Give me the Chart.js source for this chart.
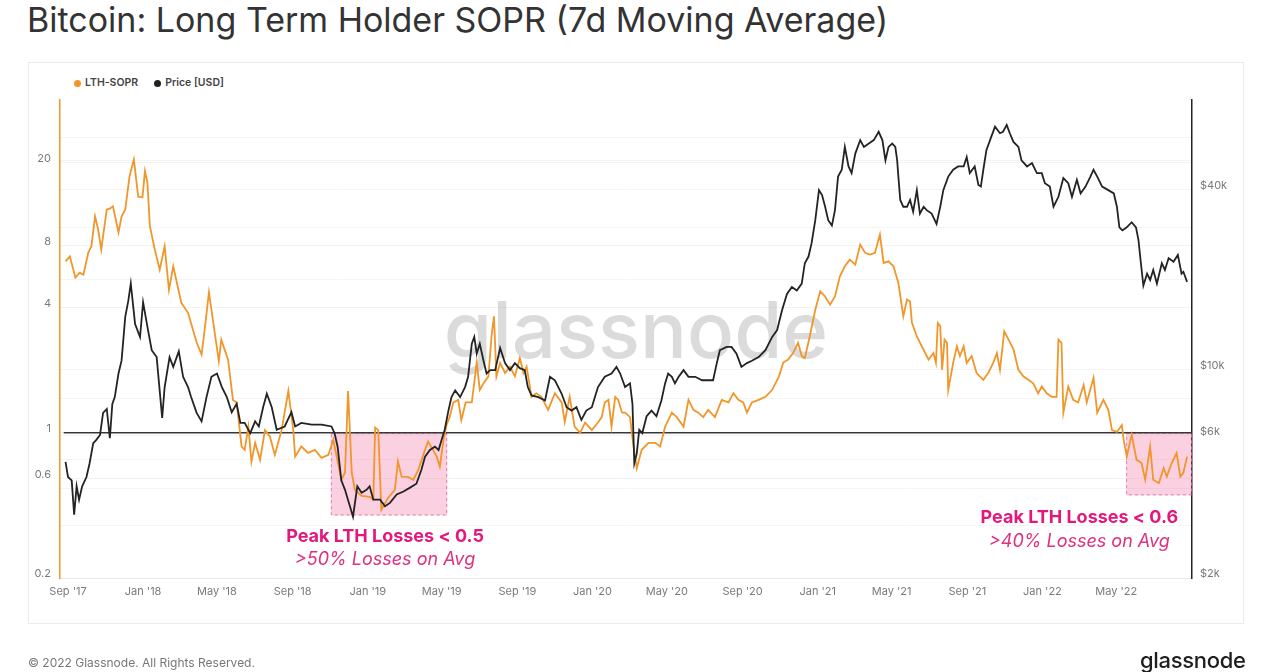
<!DOCTYPE html>
<html>
<head>
<meta charset="utf-8">
<script src="https://cdn.jsdelivr.net/npm/chart.js@4.4.1/dist/chart.umd.min.js"></script>
<style>
html,body{margin:0;padding:0;background:#fff;}
body{width:1271px;height:672px;position:relative;overflow:hidden;font-family:Inter,"Noto Sans",sans-serif;}
#title{position:absolute;left:27px;top:-1px;font-size:34px;line-height:42px;color:#333;white-space:nowrap;}
#panel{position:absolute;left:28px;top:62px;width:1216px;height:562px;border:1px solid #ebebeb;box-sizing:border-box;}
#legend{position:absolute;left:74px;top:76px;height:14px;font-size:10.5px;line-height:14px;font-weight:600;color:#444;display:flex;gap:16px;}
.li{display:flex;align-items:center;white-space:nowrap;}
.dot{display:inline-block;width:7px;height:7px;border-radius:50%;margin-right:4px;}
#footer{position:absolute;left:28px;top:655px;font-size:12px;line-height:16px;color:#777;white-space:nowrap;}
#logo{position:absolute;left:1140px;top:648px;font-size:22px;line-height:24px;font-weight:500;color:#1e1e1e;letter-spacing:-0.3px;}
canvas{position:absolute;left:0;top:0;}
</style>
</head>
<body>
<div id="title">Bitcoin: Long Term Holder SOPR (7d Moving Average)</div>
<div id="panel"></div>
<div id="legend"><span class="li"><span class="dot" style="background:#f0962a"></span>LTH-SOPR</span><span class="li"><span class="dot" style="background:#222"></span>Price [USD]</span></div>
<canvas id="c" width="1271" height="672"></canvas>
<div id="footer">© 2022 Glassnode. All Rights Reserved.</div>
<div id="logo">glassnode</div>
<script>
// ---------------- DATA ----------------
const soprDates = [
"2017-08-28","2017-09-04","2017-09-13","2017-09-20","2017-09-26","2017-10-04","2017-10-09","2017-10-15","2017-10-20","2017-10-25","2017-11-03","2017-11-08","2017-11-13","2017-11-22","2017-11-27","2017-12-03","2017-12-10","2017-12-17","2017-12-24","2017-12-31",
"2018-01-04","2018-01-08","2018-01-12","2018-01-20","2018-01-28","2018-02-05","2018-02-12","2018-02-19","2018-03-04","2018-03-15","2018-03-29","2018-04-06","2018-04-11","2018-04-18","2018-04-25","2018-05-04","2018-05-08","2018-05-19","2018-05-27","2018-06-02","2018-06-10","2018-06-15","2018-06-21","2018-06-26","2018-07-02","2018-07-10","2018-07-18","2018-07-26","2018-08-03","2018-08-14","2018-08-25","2018-09-02","2018-09-05","2018-09-15","2018-09-26","2018-10-07","2018-10-18","2018-10-29","2018-11-06","2018-11-19","2018-11-25","2018-11-30","2018-12-06","2018-12-11","2018-12-22",
"2019-01-04","2019-01-10","2019-01-13","2019-01-18","2019-01-23","2019-02-03","2019-02-14","2019-02-19","2019-02-25","2019-03-07","2019-03-16","2019-03-24","2019-04-04","2019-04-09","2019-04-17","2019-04-23","2019-04-28","2019-05-04","2019-05-09","2019-05-14","2019-05-20","2019-05-28","2019-06-02","2019-06-09","2019-06-19","2019-06-27","2019-07-02","2019-07-08","2019-07-16","2019-07-21","2019-07-25","2019-07-29","2019-08-04","2019-08-12","2019-08-20","2019-08-28","2019-09-05","2019-09-11","2019-09-16","2019-09-24","2019-10-02","2019-10-10","2019-10-21","2019-11-01","2019-11-12","2019-11-17","2019-11-25","2019-12-03","2019-12-12","2019-12-20","2019-12-31",
"2020-01-10","2020-01-16","2020-01-21","2020-01-27","2020-02-01","2020-02-07","2020-02-12","2020-02-18","2020-02-23","2020-03-02","2020-03-07","2020-03-13","2020-03-21","2020-04-01","2020-04-12","2020-04-20","2020-04-28","2020-05-09","2020-05-17","2020-05-28","2020-06-05","2020-06-13","2020-06-21","2020-06-29","2020-07-07","2020-07-18","2020-07-29","2020-08-09","2020-08-17","2020-08-25","2020-09-02","2020-09-08","2020-09-16","2020-09-27","2020-10-08","2020-10-19","2020-10-30","2020-11-06","2020-11-14","2020-11-22","2020-11-30","2020-12-06","2020-12-11","2020-12-19","2020-12-28",
"2021-01-05","2021-01-13","2021-01-21","2021-01-29","2021-02-06","2021-02-14","2021-02-22","2021-03-03","2021-03-11","2021-03-19","2021-03-27","2021-04-04","2021-04-12","2021-04-18","2021-04-26","2021-05-04","2021-05-12","2021-05-20","2021-05-26","2021-05-31","2021-06-03","2021-06-11","2021-06-19","2021-06-30","2021-07-08","2021-07-12","2021-07-15","2021-07-19","2021-07-22","2021-07-26","2021-07-30","2021-08-01","2021-08-09","2021-08-15","2021-08-20","2021-08-26","2021-08-31","2021-09-08","2021-09-16","2021-09-27","2021-10-05","2021-10-13","2021-10-19","2021-10-24","2021-10-31","2021-11-07","2021-11-15","2021-11-23","2021-12-01","2021-12-09","2021-12-17","2021-12-25","2021-12-31",
"2022-01-08","2022-01-16","2022-01-24","2022-01-27","2022-02-01","2022-02-04","2022-02-12","2022-02-20","2022-02-28","2022-03-09","2022-03-14","2022-03-25","2022-03-31","2022-04-10","2022-04-18","2022-04-24","2022-05-02","2022-05-10","2022-05-13","2022-05-18","2022-05-26","2022-06-03","2022-06-11","2022-06-17","2022-06-25","2022-06-30","2022-07-09","2022-07-17","2022-07-22","2022-07-30","2022-08-07","2022-08-13","2022-08-18","2022-08-24"
];
const soprValues = [
6.69,7.07,5.58,5.90,5.77,7.37,7.91,11.0,9.51,7.62,11.9,12.0,12.3,9.21,11.0,11.9,17.2,20.7,13.7,13.6,
18.2,16.0,9.87,7.62,6.10,7.91,4.88,6.33,4.23,3.78,2.72,2.38,3.14,4.75,3.39,2.21,2.81,2.25,1.44,1.40,0.859,0.828,1.07,0.727,0.895,0.741,1.03,0.960,0.783,1.03,1.59,1.03,0.768,0.859,0.801,0.828,0.758,0.783,0.925,0.594,0.642,1.59,0.642,0.532,0.497,
0.492,0.476,1.06,1.03,0.426,0.486,0.532,0.729,0.615,0.613,0.594,0.663,0.828,0.908,0.828,0.768,0.688,0.925,1.09,1.19,1.40,1.44,1.15,1.40,1.40,2.18,1.61,1.73,1.87,2.91,3.64,1.87,2.17,1.94,2.08,1.87,2.29,1.94,2.08,1.49,1.55,1.49,1.29,1.55,1.40,1.13,1.49,1.07,1.00,1.12,1.03,
1.12,1.19,1.40,1.44,1.07,1.49,1.44,1.25,1.25,1.19,0.895,0.675,0.828,0.895,0.895,0.859,1.07,1.25,1.19,1.07,1.44,1.29,1.25,1.19,1.29,1.19,1.44,1.40,1.55,1.44,1.40,1.25,1.40,1.44,1.49,1.61,1.87,2.18,2.25,2.42,2.71,2.34,2.29,2.91,3.91,
4.80,4.53,4.14,4.53,5.67,6.33,6.82,6.45,8.05,7.35,7.21,7.35,9.00,6.57,6.69,6.33,5.26,3.64,4.38,4.28,3.38,2.91,2.61,2.25,2.42,2.17,3.38,3.26,2.01,2.81,2.71,1.61,2.17,2.61,2.34,2.61,2.17,2.34,1.94,1.80,1.94,2.17,2.42,2.01,3.08,2.81,2.52,2.01,1.87,1.80,1.73,1.55,1.67,
1.55,1.49,1.49,2.81,2.71,1.25,1.67,1.44,1.40,1.70,1.40,1.84,1.25,1.44,1.29,1.03,1.01,1.09,0.925,0.768,0.978,0.741,0.715,0.594,0.859,0.594,0.572,0.675,0.615,0.715,0.799,0.615,0.642,0.768
];
const priceDates = [
"2017-08-28","2017-09-01","2017-09-07","2017-09-11","2017-09-15","2017-09-19","2017-09-24","2017-10-01","2017-10-06","2017-10-12","2017-10-17","2017-10-23","2017-10-28","2017-11-03","2017-11-08","2017-11-12","2017-11-16","2017-11-22","2017-11-27","2017-12-03","2017-12-08","2017-12-12","2017-12-19","2017-12-27",
"2018-01-01","2018-01-09","2018-01-15","2018-01-23","2018-02-01","2018-02-05","2018-02-13","2018-02-19","2018-02-28","2018-03-07","2018-03-15","2018-03-20","2018-03-29","2018-04-06","2018-04-14","2018-04-22","2018-05-01","2018-05-09","2018-05-17","2018-05-25","2018-06-02","2018-06-08","2018-06-15","2018-06-24","2018-07-02","2018-07-08","2018-07-15","2018-07-21","2018-07-29","2018-08-06","2018-08-19","2018-08-30","2018-09-05","2018-09-15","2018-10-02","2018-10-18","2018-11-03","2018-11-08","2018-11-13","2018-11-19","2018-11-25","2018-12-03","2018-12-08","2018-12-15","2018-12-22","2018-12-30",
"2019-01-04","2019-01-10","2019-01-21","2019-01-29","2019-02-06","2019-02-17","2019-02-28","2019-03-10","2019-03-21","2019-03-29","2019-04-04","2019-04-12","2019-04-20","2019-04-26","2019-05-01","2019-05-06","2019-05-12","2019-05-17","2019-05-23","2019-05-31","2019-06-08","2019-06-13","2019-06-19","2019-06-23","2019-06-27","2019-07-02","2019-07-08","2019-07-13","2019-07-19","2019-07-27","2019-08-04","2019-08-12","2019-08-20","2019-08-28","2019-09-05","2019-09-13","2019-09-18","2019-09-24","2019-10-05","2019-10-16","2019-10-24","2019-11-01","2019-11-12","2019-11-20","2019-11-28","2019-12-06","2019-12-14","2019-12-22","2019-12-31",
"2020-01-05","2020-01-10","2020-01-21","2020-02-01","2020-02-09","2020-02-15","2020-02-23","2020-03-02","2020-03-06","2020-03-09","2020-03-13","2020-03-17","2020-03-22","2020-03-29","2020-04-06","2020-04-14","2020-04-22","2020-04-28","2020-05-03","2020-05-09","2020-05-14","2020-05-20","2020-05-28","2020-06-05","2020-06-16","2020-06-27","2020-07-07","2020-07-15","2020-07-21","2020-07-26","2020-08-06","2020-08-14","2020-08-22","2020-08-30","2020-09-08","2020-09-16","2020-09-27","2020-10-08","2020-10-19","2020-10-27","2020-11-04","2020-11-12","2020-11-20","2020-11-28","2020-12-06","2020-12-11","2020-12-17","2020-12-22","2020-12-28",
"2021-01-03","2021-01-08","2021-01-13","2021-01-18","2021-01-24","2021-01-29","2021-02-03","2021-02-09","2021-02-14","2021-02-20","2021-02-25","2021-03-03","2021-03-11","2021-03-17","2021-03-25","2021-04-02","2021-04-10","2021-04-16","2021-04-21","2021-04-26","2021-05-02","2021-05-07","2021-05-10","2021-05-12","2021-05-15","2021-05-20","2021-05-26","2021-05-31","2021-06-05","2021-06-11","2021-06-16","2021-06-22","2021-06-27","2021-07-05","2021-07-13","2021-07-19","2021-07-24","2021-08-01","2021-08-09","2021-08-17","2021-08-26","2021-08-31","2021-09-05","2021-09-13","2021-09-19","2021-09-23","2021-09-27","2021-10-02","2021-10-10","2021-10-16","2021-10-24","2021-10-29","2021-11-04","2021-11-09","2021-11-15","2021-11-23","2021-11-28","2021-12-07","2021-12-15","2021-12-23","2021-12-31",
"2022-01-05","2022-01-13","2022-01-19","2022-01-27","2022-02-04","2022-02-12","2022-02-18","2022-02-26","2022-03-04","2022-03-12","2022-03-20","2022-03-25","2022-03-31","2022-04-08","2022-04-18","2022-04-27","2022-05-02","2022-05-06","2022-05-11","2022-05-18","2022-05-26","2022-06-02","2022-06-06","2022-06-10","2022-06-14","2022-06-20","2022-06-25","2022-06-30","2022-07-06","2022-07-14","2022-07-19","2022-07-25","2022-08-02","2022-08-09","2022-08-15","2022-08-18","2022-08-24"
];
const priceValues = [
4900,4360,4250,3260,4060,3660,4060,4360,4840,5660,5810,6030,7150,7370,5880,7670,8080,9690,10700,15000,17000,19400,14200,12850,
16800,13550,11600,11000,6880,8730,11000,10200,11500,9450,8730,8080,7150,6700,8080,9450,9690,8730,8080,7190,7670,6620,6620,6120,6700,6440,7470,8290,7470,6280,6440,7190,6440,6620,6530,6530,6440,6120,5510,4250,3950,3480,3210,4060,3860,3950,
4060,3660,3660,3480,3570,3810,3900,4010,4140,4600,5100,5370,5510,5370,5810,6280,7280,8080,8510,8080,8730,9450,12200,12850,11300,12200,10700,9690,9950,9950,11800,10500,9950,10500,10100,9950,8730,8180,8080,7870,9450,9200,8290,7470,7280,7470,6780,7280,7470,
8080,8730,9450,9690,10200,9690,8730,8980,7670,4840,5230,6280,6120,6970,7280,6970,7870,8980,9690,9450,8980,9450,9950,9450,9450,9200,9200,9200,10500,11600,11900,11900,11300,10200,10500,10700,11000,11600,12850,13550,15800,17900,18900,18400,19400,22700,23900,26500,31650,
39900,38400,35100,31650,30350,34200,44300,46700,55700,47900,45500,52900,58700,55700,57200,58700,62600,58700,50200,55700,57200,55700,50200,44300,37000,35100,35100,37000,33800,39900,33300,35100,34200,33300,30750,35100,39900,44300,46700,47900,47900,51500,45500,47900,41500,41000,46700,54300,60300,65100,61900,62600,66000,61900,57900,55700,50200,47900,49200,45500,45500,
42100,41000,35100,37900,43800,42100,37900,43200,38900,41000,44300,46700,44300,41000,39900,38900,35100,29950,29250,29950,31150,29950,27200,22700,19100,20950,19950,21550,19400,22700,21550,23600,22950,24200,20950,21250,19650
];
// reference level (SOPR = 1)
const refLevel = 1;
const refFrom = "2017-08-25";

// axis range & ticks
const xMinDate = "2017-08-19";
const xMaxDate = "2022-09-01";
const xTickDates = ["2017-09-01","2018-01-01","2018-05-01","2018-09-01","2019-01-01","2019-05-01","2019-09-01","2020-01-01","2020-05-01","2020-09-01","2021-01-01","2021-05-01","2021-09-01","2022-01-01","2022-05-01"];
const xTickLabels = ["Sep '17","Jan '18","May '18","Sep '18","Jan '19","May '19","Sep '19","Jan '20","May '20","Sep '20","Jan '21","May '21","Sep '21","Jan '22","May '22"];
const soprMin = 0.2, soprMax = 40;
const soprTicks = [0.2, 0.6, 1, 4, 8, 20];
const soprTickLabels = ["0.2","0.6","1","4","8","20"];
const priceMin = 2000, priceMax = 80000;
const priceTicks = [2000, 3000, 4000, 5000, 6000, 8000, 10000, 20000, 30000, 40000, 50000, 60000];
const priceTickLabels = ["$2k","","","","$6k","","$10k","","","$40k","",""];

// highlighted regions (date range, SOPR range)
const zoneFrom = ["2018-11-02", "2022-05-17"];
const zoneTo = ["2019-05-10", "2022-09-01"];
const zoneLow = [0.4, 0.5];
const zoneHigh = [1, 1];
const noteTitles = ["Peak LTH Losses < 0.5", "Peak LTH Losses < 0.6"];
const noteSubs = [">50% Losses on Avg", ">40% Losses on Avg"];
const noteDates = ["2019-01-29", "2022-03-02"];

// ---------------- STYLE ----------------
const ORANGE = '#f0962a';
const DARK = '#232323';
const PINK = '#e2187c';
const FONT = 'Inter, "Noto Sans", sans-serif';
const noteTitleValue = [0.317, 0.390];
const noteSubValue = [0.2446, 0.2997];

const t = s => Date.parse(s);

const overlay = {
  id: 'overlay',
  beforeDatasetsDraw(chart) {
    const { ctx, scales } = chart;
    const x = scales.x, y = scales.ySopr;
    ctx.save();
    ctx.font = '500 78px ' + FONT;
    ctx.fillStyle = 'rgba(0,0,0,0.14)';
    ctx.textAlign = 'center';
    ctx.textBaseline = 'alphabetic';
    ctx.fillText('glassnode', 636, 358);
    for (let i = 0; i < zoneFrom.length; i++) {
      const x0 = x.getPixelForValue(t(zoneFrom[i]));
      const x1 = x.getPixelForValue(t(zoneTo[i]));
      const y0 = y.getPixelForValue(zoneHigh[i]);
      const y1 = y.getPixelForValue(zoneLow[i]);
      ctx.fillStyle = 'rgba(240,90,150,0.28)';
      ctx.fillRect(x0, y0, x1 - x0, y1 - y0);
      ctx.setLineDash([3, 3]);
      ctx.strokeStyle = 'rgba(215,110,160,0.85)';
      ctx.lineWidth = 1;
      ctx.strokeRect(x0 + 0.5, y0 + 0.5, x1 - x0 - 1, y1 - y0 - 1);
      ctx.setLineDash([]);
    }
    ctx.restore();
  },
  afterDatasetsDraw(chart) {
    const { ctx, scales } = chart;
    const x = scales.x, y = scales.ySopr;
    ctx.save();
    ctx.textAlign = 'center';
    ctx.textBaseline = 'middle';
    for (let i = 0; i < noteTitles.length; i++) {
      const px = x.getPixelForValue(t(noteDates[i]));
      ctx.fillStyle = PINK;
      ctx.font = '700 18px ' + FONT;
      ctx.fillText(noteTitles[i], px, y.getPixelForValue(noteTitleValue[i]));
      ctx.fillStyle = '#e0307f';
      ctx.font = 'italic 400 18px ' + FONT;
      ctx.fillText(noteSubs[i], px, y.getPixelForValue(noteSubValue[i]));
    }
    ctx.restore();
  }
};

const tickFont = { family: FONT, size: 11 };

new Chart(document.getElementById('c'), {
  type: 'line',
  data: {
    datasets: [
      {
        label: 'Price [USD]',
        data: priceDates.map((d, i) => ({ x: t(d), y: priceValues[i] })),
        yAxisID: 'yPrice',
        borderColor: DARK, borderWidth: 1.8, pointRadius: 0, tension: 0, fill: false
      },
      {
        label: 'LTH-SOPR',
        data: soprDates.map((d, i) => ({ x: t(d), y: soprValues[i] })),
        yAxisID: 'ySopr',
        borderColor: ORANGE, borderWidth: 1.8, pointRadius: 0, tension: 0, fill: false
      },
      {
        label: 'SOPR = 1',
        data: [{ x: t(refFrom), y: refLevel }, { x: t(xMaxDate), y: refLevel }],
        yAxisID: 'ySopr',
        borderColor: '#383838', borderWidth: 1.5, pointRadius: 0, fill: false
      }
    ]
  },
  options: {
    responsive: false,
    animation: false,
    events: [],
    layout: { padding: { top: 100, bottom: 64, left: 0, right: 0 } },
    plugins: { legend: { display: false }, tooltip: { enabled: false }, title: { display: false } },
    scales: {
      x: {
        type: 'linear', bounds: 'data',
        min: t(xMinDate), max: t(xMaxDate),
        grid: { display: false, drawTicks: false },
        border: { display: false },
        afterBuildTicks: s => { s.ticks = xTickDates.map(d => ({ value: t(d) })); },
        afterFit: s => { s.height = 30; },
        ticks: {
          autoSkip: false, maxRotation: 0, minRotation: 0, padding: 7,
          color: '#7a7a7a', font: tickFont,
          callback: v => { const i = xTickDates.findIndex(d => t(d) === v); return i >= 0 ? xTickLabels[i] : ''; }
        }
      },
      ySopr: {
        type: 'logarithmic', position: 'left', bounds: 'data',
        min: soprMin, max: soprMax,
        afterBuildTicks: s => { s.ticks = soprTicks.map(v => ({ value: v })); },
        afterFit: s => { s.width = 60; },
        grid: { color: 'rgba(0,0,0,0.05)', drawTicks: false },
        border: { display: true, color: ORANGE, width: 1.5 },
        ticks: {
          padding: 9, labelOffset: -4, color: '#7a7a7a', font: tickFont, autoSkip: false,
          callback: v => { const i = soprTicks.indexOf(v); return i >= 0 ? soprTickLabels[i] : ''; }
        }
      },
      yPrice: {
        type: 'logarithmic', position: 'right', bounds: 'data',
        min: priceMin, max: priceMax,
        afterBuildTicks: s => { s.ticks = priceTicks.map(v => ({ value: v })); },
        afterFit: s => { s.width = 79; },
        grid: { color: 'rgba(0,0,0,0.045)', drawTicks: false },
        border: { display: true, color: DARK, width: 1.5 },
        ticks: {
          padding: 8, labelOffset: -4, color: '#7a7a7a', font: tickFont, autoSkip: false,
          callback: v => { const i = priceTicks.indexOf(v); return i >= 0 ? priceTickLabels[i] : ''; }
        }
      }
    }
  },
  plugins: [overlay]
});
</script>
</body>
</html>
